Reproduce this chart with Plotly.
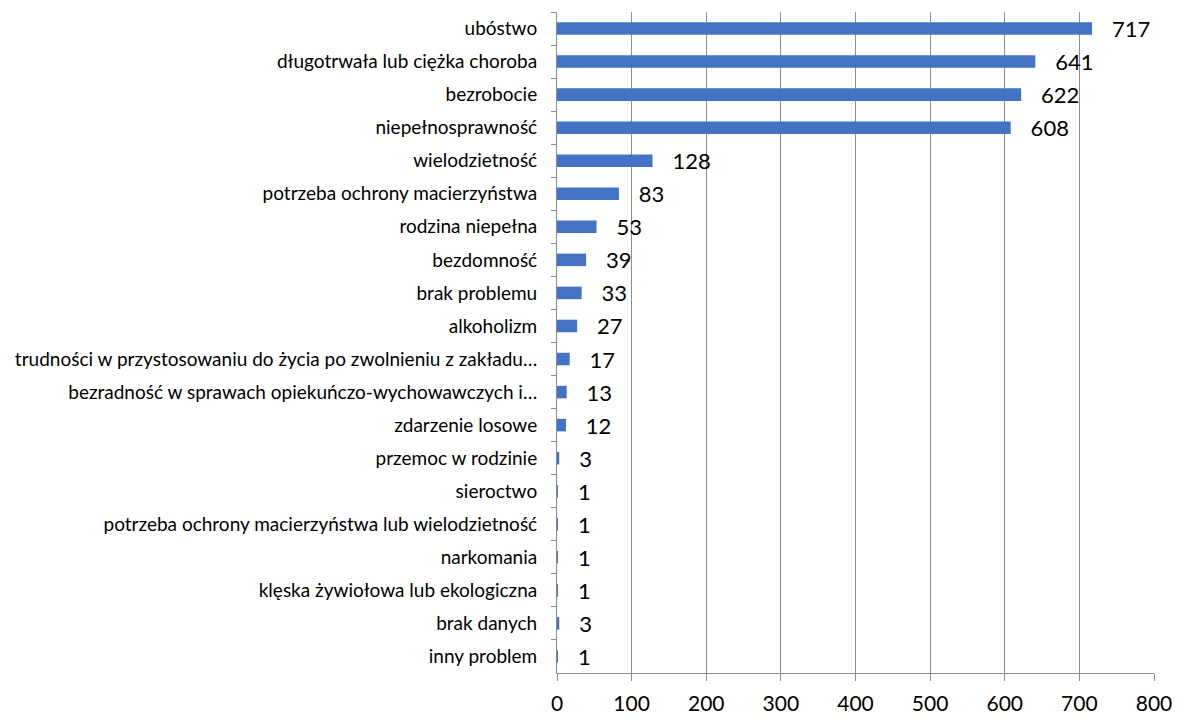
import plotly.graph_objects as go

# Categories (top to bottom) and counts
categories = [
    "ubóstwo",
    "długotrwała lub ciężka choroba",
    "bezrobocie",
    "niepełnosprawność",
    "wielodzietność",
    "potrzeba ochrony macierzyństwa",
    "rodzina niepełna",
    "bezdomność",
    "brak problemu",
    "alkoholizm",
    "trudności w przystosowaniu do życia po zwolnieniu z zakładu…",
    "bezradność w sprawach opiekuńczo-wychowawczych i…",
    "zdarzenie losowe",
    "przemoc w rodzinie",
    "sieroctwo",
    "potrzeba ochrony macierzyństwa lub wielodzietność",
    "narkomania",
    "klęska żywiołowa lub ekologiczna",
    "brak danych",
    "inny problem",
]
values = [717, 641, 622, 608, 128, 83, 53, 39, 33, 27, 17, 13, 12, 3, 1, 1, 1, 1, 3, 1]

x_ticks = [0, 100, 200, 300, 400, 500, 600, 700, 800]

FONT = "Lato, 'Open Sans', sans-serif"

fig = go.Figure()

fig.add_trace(
    go.Bar(
        x=values,
        y=categories,
        orientation="h",
        marker=dict(color="#4472C4", line=dict(width=0)),
        texttemplate="   %{x}",
        textposition="outside",
        constraintext="none",
        cliponaxis=False,
        textfont=dict(family=FONT, size=22, color="#000000"),
        hoverinfo="skip",
    )
)

fig.update_layout(
    width=1178,
    height=718,
    autosize=False,
    margin=dict(l=557, r=24, t=12, b=45, autoexpand=False),
    paper_bgcolor="#FFFFFF",
    plot_bgcolor="#FFFFFF",
    showlegend=False,
    bargap=0.62,
    font=dict(family=FONT, color="#000000"),
    xaxis=dict(
        range=[0, 800],
        tickvals=x_ticks,
        ticktext=[str(v) for v in x_ticks],
        showgrid=True,
        gridcolor="#8C8C8C",
        gridwidth=1,
        showline=True,
        linecolor="#8C8C8C",
        ticks="outside",
        ticklen=7,
        tickcolor="#8C8C8C",
        ticklabelstandoff=5,
        tickfont=dict(family=FONT, size=21, color="#000000"),
        zeroline=False,
        automargin=False,
        fixedrange=True,
    ),
    yaxis=dict(
        autorange="reversed",
        showgrid=False,
        showline=True,
        linecolor="#8C8C8C",
        ticks="outside",
        ticklen=5,
        tickcolor="#8C8C8C",
        tickson="boundaries",
        ticklabelstandoff=15,
        tickfont=dict(family=FONT, size=19, color="#000000"),
        automargin=False,
        fixedrange=True,
    ),
)

fig.write_html(
    "out.html",
    config={"displayModeBar": False, "responsive": False},
    post_script="document.body.style.margin='0';document.body.style.overflow='hidden';",
)
